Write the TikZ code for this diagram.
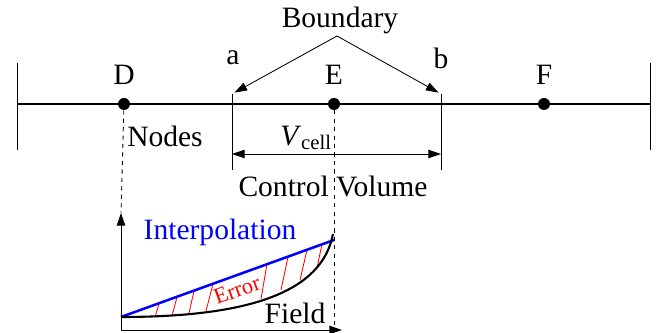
\documentclass[tikz,border=0pt]{standalone}
\usepackage{fontspec}
\setmainfont{Liberation Serif}
\usetikzlibrary{arrows.meta, positioning}
\tikzset{
  lbl/.style={font=\fontsize{21}{24}\selectfont, inner sep=1pt},
  small/.style={font=\fontsize{16}{18}\selectfont, inner sep=0pt},
  gridnode/.style={circle, fill=black, inner sep=0pt, minimum size=0.3cm},
  pointer/.style={-{Triangle[length=9pt,width=6pt]}, line width=0.6pt},
  axis/.style={-{Triangle[length=9pt,width=6pt]}, line width=0.7pt},
  face/.style={line width=0.7pt},
  guide/.style={dashed, line width=0.6pt},
}

\begin{document}
\begin{tikzpicture}[x=0.025cm, y=-0.025cm]
  \useasboundingbox (0,0) rectangle (659,333);

  % Grid line with end marks
  \coordinate (lend) at (17,104);
  \coordinate (rend) at (650,104);
  \draw[line width=1.4pt] (lend) -- (rend);
  \draw[face] (17,63) -- (17,150);
  \draw[face] (650,63) -- (650,150);

  % Nodes D, E, F
  \node[gridnode] (D) at (124,104) {};
  \node[gridnode] (E) at (334,104) {};
  \node[gridnode] (F) at (544,104) {};
  \node[lbl] (Dl) at (124,75) {D};
  \node[lbl] (El) at (334,75) {E};
  \node[lbl] (Fl) at (544,75) {F};

  % Control volume faces
  \coordinate (atop) at (232,94);
  \coordinate (abot) at (232,170);
  \coordinate (btop) at (441,94);
  \coordinate (bbot) at (441,170);
  \draw[face] (atop) -- (abot);
  \draw[face] (btop) -- (bbot);
  \node[lbl] (al) at (233,58) {a};
  \node[lbl] (bl) at (441,58) {b};

  % Boundary label
  \node[lbl] (bnd) at (340,20) {Boundary};
  \coordinate (apex) at (337,36);
  \draw[pointer, shorten >=2pt] (apex) -- (atop);
  \draw[pointer, shorten >=2pt] (apex) -- (btop);

  % Cell volume
  \coordinate (va) at (232,154);
  \coordinate (vb) at (441,154);
  \draw[pointer, {Triangle[length=9pt,width=6pt]}-{Triangle[length=9pt,width=6pt]}] (va) -- (vb);
  \node[lbl] (vcell) at (306,138) {\textit{V}\textsubscript{cell}};
  \node[lbl] (cv) at (333,186) {Control Volume};
  \node[lbl] (nodes) at (165,136) {Nodes};

  % Field plot
  \coordinate (O) at (121,330);
  \coordinate (ytip) at (121,213);
  \coordinate (xtip) at (342,330);
  \coordinate (fstart) at (121,317);
  \coordinate (ipend) at (334,240);
  \coordinate (fend) at (333,234);
  \coordinate (Ebot) at (334,330);
  \draw[guide] (D) -- (ytip);
  \draw[guide] (E) -- (Ebot);
  \draw[axis] (O) -- (ytip);
  \draw[axis] (O) -- (xtip);

  % Error hatching
  \foreach \xa/\ya/\xb/\yb in {155/317/159/304, 172/316/177/297, 189/313/194/291,
      206/311/213/284, 261/299/267/264, 281/290/288/257, 300/280/307/250,
      317/268/322/244}
    \draw[red, line width=0.6pt] (\xa,\ya) -- (\xb,\yb);

  \draw[blue, line width=1.8pt] (fstart) -- (ipend);
  \draw[line width=1.5pt] (fstart) .. controls (250,317) and (322,292) .. (fend);

  \node[lbl, text=blue] (interp) at (220,232) {Interpolation};
  \node[small, text=red, rotate=20] (err) at (237,290) {Error};
  \node[lbl] (field) at (295,313) {Field};
\end{tikzpicture}
\end{document}
